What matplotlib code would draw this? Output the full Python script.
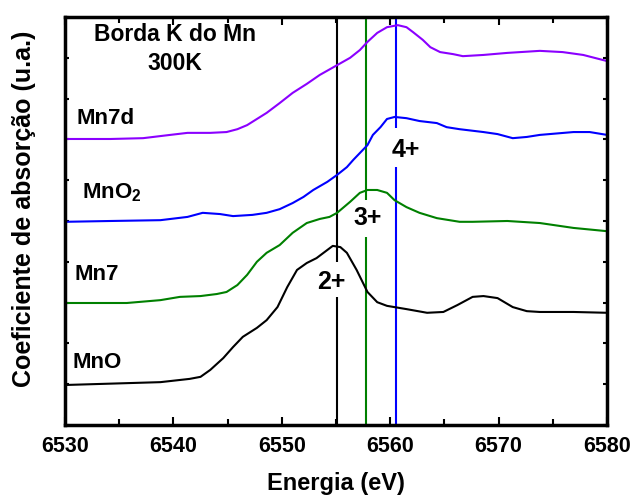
import matplotlib
matplotlib.use("Agg")
import matplotlib.pyplot as plt
from matplotlib.ticker import MultipleLocator, NullFormatter

plt.rcParams['font.family'] = ['Liberation Sans', 'DejaVu Sans']
plt.rcParams['font.weight'] = 'bold'
plt.rcParams['axes.labelweight'] = 'bold'

# XANES spectra, Mn K edge (energy in eV, absorption offset per sample)
e_mno = [6530.0, 6538.8, 6541.5, 6542.5, 6543.4, 6544.6, 6545.5, 6546.4, 6547.7, 6548.6,
         6549.6, 6550.5, 6551.4, 6552.3, 6553.2, 6554.2, 6554.7, 6555.4, 6556.0, 6556.9,
         6557.9, 6558.8, 6559.7, 6561.5, 6563.4, 6564.9, 6566.2, 6567.6, 6568.6, 6569.9,
         6571.3, 6572.6, 6573.8, 6576.9, 6580.0]
mu_mno = [0.98, 1.05, 1.13, 1.18, 1.35, 1.64, 1.91, 2.16, 2.38, 2.57,
          2.89, 3.38, 3.80, 3.97, 4.09, 4.29, 4.39, 4.36, 4.22, 3.80,
          3.26, 3.01, 2.92, 2.84, 2.75, 2.77, 2.94, 3.14, 3.16, 3.11,
          2.89, 2.79, 2.77, 2.77, 2.75]

e_mn7 = [6530.0, 6535.7, 6538.8, 6540.6, 6542.5, 6544.0, 6544.9, 6545.9, 6546.8, 6547.7,
         6548.6, 6549.8, 6551.0, 6552.3, 6553.5, 6554.4, 6555.1, 6556.3, 6557.2, 6557.9,
         6558.8, 6559.7, 6560.4, 6561.5, 6562.7, 6564.3, 6566.4, 6567.6, 6570.8, 6573.8,
         6576.9, 6580.0]
mu_mn7 = [2.99, 2.99, 3.06, 3.14, 3.16, 3.21, 3.26, 3.43, 3.68, 4.00,
          4.22, 4.41, 4.71, 4.95, 5.05, 5.10, 5.20, 5.47, 5.69, 5.76,
          5.76, 5.69, 5.51, 5.34, 5.20, 5.07, 4.98, 4.98, 5.00, 4.95,
          4.83, 4.75]

e_mno2 = [6530.0, 6534.2, 6538.8, 6541.3, 6542.7, 6544.3, 6545.5, 6547.3, 6548.6, 6549.8,
          6551.0, 6552.0, 6552.9, 6554.2, 6555.1, 6556.0, 6556.6, 6557.9, 6558.4, 6559.1,
          6559.7, 6560.4, 6561.5, 6562.7, 6564.3, 6565.2, 6566.4, 6568.6, 6569.9, 6571.3,
          6572.6, 6573.8, 6576.9, 6578.4, 6580.0]
mu_mno2 = [4.98, 5.00, 5.02, 5.10, 5.20, 5.17, 5.12, 5.15, 5.20, 5.29,
           5.44, 5.59, 5.76, 5.96, 6.13, 6.32, 6.50, 6.86, 7.11, 7.30,
           7.50, 7.55, 7.52, 7.45, 7.40, 7.30, 7.25, 7.18, 7.13, 7.03,
           7.06, 7.11, 7.18, 7.18, 7.11]

e_mn7d = [6530.0, 6534.2, 6537.2, 6539.7, 6541.3, 6543.4, 6544.9, 6545.9, 6546.8, 6548.6,
          6549.8, 6551.0, 6552.3, 6553.5, 6555.1, 6556.3, 6557.2, 6557.9, 6558.8, 6559.7,
          6560.7, 6561.5, 6562.1, 6563.0, 6563.7, 6564.6, 6565.8, 6566.7, 6568.6, 6570.8,
          6573.8, 6575.9, 6577.8, 6580.0]
mu_mn7d = [7.01, 7.01, 7.03, 7.11, 7.16, 7.16, 7.18, 7.25, 7.35, 7.65,
           7.89, 8.14, 8.36, 8.58, 8.82, 9.00, 9.19, 9.39, 9.61, 9.75,
           9.80, 9.75, 9.63, 9.44, 9.26, 9.14, 9.09, 9.04, 9.07, 9.12,
           9.17, 9.14, 9.07, 8.92]

# edge positions for the reference oxidation states
edges = [6555.1, 6557.8, 6560.5]
edge_labels = ['2+', '3+', '4+']

fig = plt.figure(figsize=(6.33, 4.97), dpi=100)
ax = fig.add_axes([0.1027, 0.1449, 0.8563, 0.8209])

# vertical markers, broken where the label sits
ax.vlines(edges[0], 0, 3.14, color='black', lw=1.5)
ax.vlines(edges[0], 4.0, 10, color='black', lw=1.5)
ax.vlines(edges[1], 0, 4.61, color='green', lw=1.5)
ax.vlines(edges[1], 5.51, 10, color='green', lw=1.5)
ax.vlines(edges[2], 0, 6.32, color='blue', lw=1.5)
ax.vlines(edges[2], 7.28, 10, color='blue', lw=1.5)

ax.plot(e_mno, mu_mno, color='black', lw=1.5)
ax.plot(e_mn7, mu_mn7, color='green', lw=1.5)
ax.plot(e_mno2, mu_mno2, color='blue', lw=1.5)
ax.plot(e_mn7d, mu_mn7d, color='#8b00ff', lw=1.5)

ax.text(6554.6, 3.5, edge_labels[0], fontsize=18, ha='center', va='center')
ax.text(6557.95, 5.07, edge_labels[1], fontsize=18, ha='center', va='center')
ax.text(6561.4, 6.74, edge_labels[2], fontsize=18, ha='center', va='center')

ax.text(6531.1, 7.52, 'Mn7d', fontsize=16, va='center')
ax.text(6531.6, 5.69, r'MnO$_\mathregular{2}$', fontsize=16, va='center')
ax.text(6530.9, 3.68, 'Mn7', fontsize=16, va='center')
ax.text(6530.7, 1.52, 'MnO', fontsize=16, va='center')

ax.text(6540.15, 9.56, 'Borda K do Mn', fontsize=16.5, ha='center', va='center')
ax.text(6540.15, 8.87, '300K', fontsize=16.5, ha='center', va='center')

ax.set_xlim(6530, 6580)
ax.set_ylim(0, 10)
ax.xaxis.set_major_locator(MultipleLocator(10))
ax.xaxis.set_minor_locator(MultipleLocator(5))
ax.yaxis.set_major_locator(MultipleLocator(1))
ax.yaxis.set_major_formatter(NullFormatter())
ax.tick_params(axis='x', which='major', direction='in', length=6, width=1.5,
               top=True, labelsize=15.5, pad=8)
ax.tick_params(axis='x', which='minor', direction='in', length=4, width=1.5, top=True)
ax.tick_params(axis='y', which='major', direction='in', length=3, width=1.5, right=True)
for s in ax.spines.values():
    s.set_linewidth(2.5)

ax.set_xlabel('Energia (eV)', fontsize=17, labelpad=11)
ax.set_ylabel('Coeficiente de absorção (u.a.)', fontsize=18)
ax.yaxis.set_label_coords(-0.053, 0.53)

fig.savefig('out.png', dpi=100)
